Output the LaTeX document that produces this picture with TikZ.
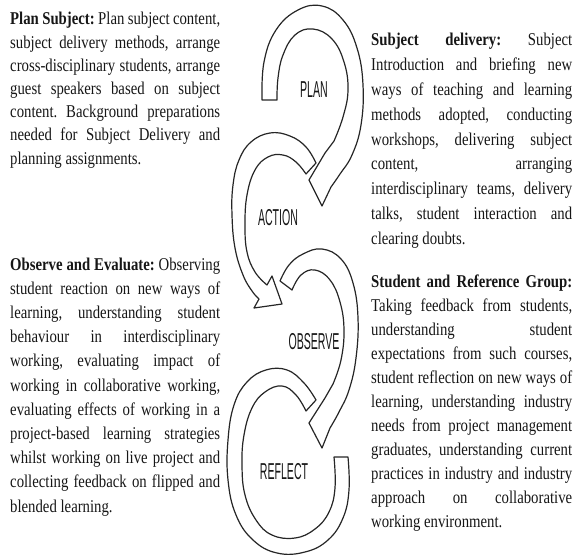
\documentclass[tikz,border=0pt]{standalone}
\usepackage{fontspec}
\setmainfont[FakeStretch=0.82]{Liberation Serif}
\newfontfamily\stagefont[FakeStretch=0.46]{Liberation Sans}
\usetikzlibrary{positioning}
\usepackage{xcolor}
\definecolor{cycInk}{HTML}{161616}
\definecolor{cycLine}{HTML}{262626}
\definecolor{cycPaper}{HTML}{FFFFFF}
\tolerance=10000
\hbadness=10000
\hyphenpenalty=10000
\exhyphenpenalty=10000
\frenchspacing
\tikzset{
  band/.style    = {draw=cycLine, fill=cycPaper, line width=1.2pt, line join=round},
  stage/.style   = {font=\stagefont\fontsize{23}{23}\selectfont, text=cycInk, inner sep=0},
  blurb/.style   = {anchor=base west, inner sep=0, align=justify, text=cycInk,
                    font=\fontsize{18}{#1}\selectfont},
  blurb/.default = 24,
}

\begin{document}
\begin{tikzpicture}[x=1pt, y=-1pt, line cap=round]

\useasboundingbox (0,0) rectangle (580,556);

% columns
\def\colL{10}   % left text column
\def\colR{371}  % right text column
\def\wL{210}
\def\wR{201}

% --- the coil, drawn bottom up so each head lies on the next tail ---
% arc 4: reflect
\draw[band] plot[smooth, tension=0.7] coordinates {(316,400) (304,383) (287,370)
    (266,370) (247,382) (234,405) (228,440) (228,480) (236,515) (253,540)
    (277,553) (305,552) (328,540) (343,518) (349,490) (348,457)}
  -- plot[smooth, tension=0.7] coordinates {(334,457) (335,488) (329,512)
    (315,529) (295,538) (272,535) (256,520) (245,495) (242,465) (244,435)
    (252,408) (265,392) (282,386) (296,395) (306,411)} -- cycle;

% arc 3: observe
\draw[band] plot[smooth, tension=0.7] coordinates {(280,281) (289,265) (303,254)
    (322,249) (341,259) (353,283) (358,318) (356,358) (349,390) (339,412) (330,428)}
  -- (322,448) -- (309,423) -- (325,398)
  -- plot[smooth, tension=0.7] coordinates {(333,384) (341,360) (344,330)
    (340,302) (330,280) (315,270) (301,275) (292,290)} -- cycle;

% arc 2: action
\draw[band] plot[smooth, tension=0.7] coordinates {(316,163) (306,147) (290,136)
    (270,133) (251,142) (239,160) (233,185) (232,215) (235,248) (243,275)
    (252,291) (259,299)}
  -- (254,308) -- (282,304) -- (272,276)
  -- plot[smooth, tension=0.7] coordinates {(267,285) (255,272) (247,252)
    (245,225) (247,195) (255,170) (268,157) (283,155) (296,162) (306,174)} -- cycle;

% arc 1: plan
\draw[band] plot[smooth, tension=0.7] coordinates {(262,100) (264,62) (276,30)
    (298,10) (322,6) (343,20) (357,48) (363,85) (361,125) (352,155) (340,174)
    (331,187)}
  -- (322,206) -- (309,180) -- (325,153)
  -- plot[smooth, tension=0.7] coordinates {(334,141) (343,117) (348,90)
    (344,62) (332,39) (313,29) (295,35) (283,55) (278,78) (277,100)} -- cycle;

% --- stage names ---
\node[stage] (plan)    at (314,90)  {PLAN};
\node[stage] (action)  at (278,218) {ACTION};
\node[stage] (observe) at (314,342) {OBSERVE};
\node[stage] (reflect) at (284,472) {REFLECT};

% --- left column ---
\node[blurb=23.2, text width=\wL pt] (planTxt) at (\colL,25)
  {\textbf{Plan Subject:} Plan subject content,\linebreak
   subject delivery methods, arrange\linebreak
   cross-disciplinary students, arrange\linebreak
   guest speakers based on subject\linebreak
   content. Background preparations\linebreak
   needed for Subject Delivery and\linebreak
   planning assignments.};

\node[blurb=24.2, text width=\wL pt] (observeTxt) at (\colL,270)
  {\textbf{Observe and Evaluate:} Observing\linebreak
   student reaction on new ways of\linebreak
   learning, understanding student\linebreak
   behaviour in interdisciplinary\linebreak
   working, evaluating impact of\linebreak
   working in collaborative working,\linebreak
   evaluating effects of working in a\linebreak
   project-based learning strategies\linebreak
   whilst working on live project and\linebreak
   collecting feedback on flipped and\linebreak
   blended learning.};

% --- right column ---
\node[blurb=24.8, text width=\wR pt] (deliveryTxt) at (\colR,46)
  {\textbf{Subject delivery:} Subject\linebreak
   Introduction and briefing new\linebreak
   ways of teaching and learning\linebreak
   methods adopted, conducting\linebreak
   workshops, delivering subject\linebreak
   content, arranging\linebreak
   interdisciplinary teams, delivery\linebreak
   talks, student interaction and\linebreak
   clearing doubts.};

\node[blurb=24, text width=\wR pt] (studentTxt) at (\colR,287)
  {\textbf{Student and Reference Group:}\linebreak
   Taking feedback from students,\linebreak
   understanding student\linebreak
   expectations from such courses,\linebreak
   student reflection on new ways of\linebreak
   learning, understanding industry\linebreak
   needs from project management\linebreak
   graduates, understanding current\linebreak
   practices in industry and industry\linebreak
   approach on collaborative\linebreak
   working environment.};

\end{tikzpicture}
\end{document}
